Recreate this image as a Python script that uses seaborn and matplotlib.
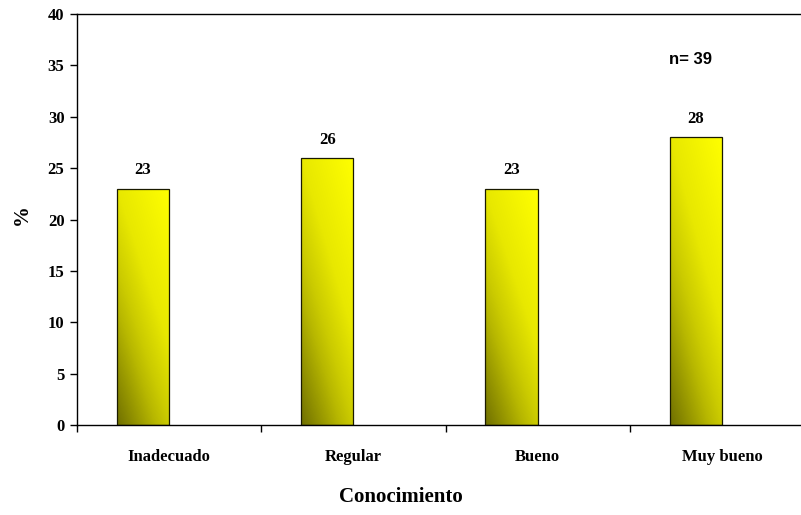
import numpy as np
import pandas as pd
import matplotlib
matplotlib.use("Agg")
import matplotlib.pyplot as plt
from matplotlib.colors import LinearSegmentedColormap
import seaborn as sns

categorias = ["Inadecuado", "Regular", "Bueno", "Muy bueno"]
porcentajes = [23, 26, 23, 28]
y_ticks = [0, 5, 10, 15, 20, 25, 30, 35, 40]
n_total = 39

sns.set_theme(style="white")
plt.rcParams["font.family"] = ["Liberation Serif", "DejaVu Serif"]
plt.rcParams["text.color"] = "black"
plt.rcParams["xtick.color"] = "black"
plt.rcParams["ytick.color"] = "black"
plt.rcParams["axes.labelcolor"] = "black"

df = pd.DataFrame({"Conocimiento": categorias, "pct": porcentajes, "serie": "A"})

fig = plt.figure(figsize=(8.01, 5.15), dpi=100)
ax = fig.add_axes([77 / 801, 1 - 425 / 515, (814 - 77) / 801, (425 - 14) / 515])

sns.barplot(data=df, x="Conocimiento", y="pct", hue="serie", hue_order=["A", "B"],
            order=categorias, width=0.566, dodge=True, legend=False,
            edgecolor="#1a1a00", linewidth=0.9, ax=ax)

# diagonal olive-to-yellow gradient inside each bar
grad_cmap = LinearSegmentedColormap.from_list(
    "oliva", [(0.0, "#707000"), (0.3, "#b8b800"), (0.4, "#cbcb00"),
              (0.6, "#e8e800"), (1.0, "#ffff00")])
gy, gx = np.mgrid[0:1:200j, 0:1:60j]
grad = 0.4 * gx + 0.6 * gy
bars = [p for p in ax.patches if np.isfinite(p.get_height()) and p.get_height() > 0]
for p in bars:
    x0, y0 = p.get_x(), p.get_y()
    w, h = p.get_width(), p.get_height()
    im = ax.imshow(grad, cmap=grad_cmap, origin="lower", aspect="auto",
                   extent=[x0, x0 + w, y0, y0 + h], zorder=p.get_zorder() - 0.1,
                   vmin=0, vmax=1)
    im.set_clip_path(p)
    p.set_facecolor("none")

for p, v in zip(bars, porcentajes):
    ax.text(p.get_x() + p.get_width() / 2, p.get_height() + 1.0, f"{v}",
            ha="center", va="bottom", fontsize=12, fontweight="bold")

ax.set_xlim(-0.5, 3.5)
ax.set_ylim(0, 40)
ax.set_yticks(y_ticks)
ax.set_yticklabels([str(t) for t in y_ticks], fontsize=12, fontweight="bold")
ax.set_xticks(range(len(categorias)))
ax.set_xticklabels(categorias, fontsize=12, fontweight="bold")
ax.set_xticks([-0.5, 0.5, 1.5, 2.5], minor=True)
ax.tick_params(axis="x", which="major", length=0, pad=17)
ax.tick_params(axis="x", which="minor", length=5, width=1, color="black", direction="out", bottom=True)
ax.tick_params(axis="y", length=5, width=1, color="black", direction="out", left=True, pad=4)

for s in ["left", "bottom", "top"]:
    ax.spines[s].set_visible(True)
    ax.spines[s].set_color("black")
    ax.spines[s].set_linewidth(1.0)
ax.spines["right"].set_visible(False)

ax.set_xlabel("")
ax.set_ylabel("")
fig.text(22 / 801, 1 - 215 / 515, "%", rotation=90, ha="center", va="center",
         fontsize=15, fontweight="bold")
fig.text(401 / 801, 1 - 497 / 515, "Conocimiento", ha="center", va="center",
         fontsize=15, fontweight="bold")
ax.text(2.83, 35.6, f"n= {n_total}", ha="center", va="center", fontsize=12,
        fontweight="bold", family=["Liberation Sans", "DejaVu Sans"])

fig.savefig("out.png", dpi=100)
